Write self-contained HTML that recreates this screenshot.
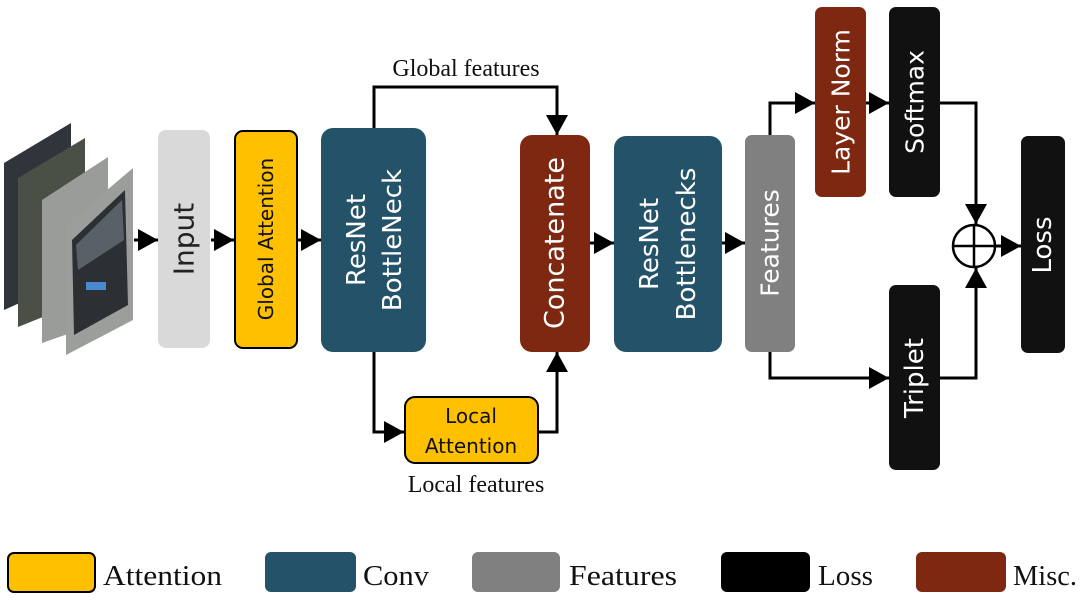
<!DOCTYPE html>
<html><head><meta charset="utf-8"><style>
html,body{margin:0;padding:0;background:#fff;}
svg{display:block;}
.s{font-family:"DejaVu Sans","Liberation Sans",sans-serif;}
.r{font-family:"Liberation Serif",serif;fill:#111;}
</style></head><body>
<svg width="1084" height="600" viewBox="0 0 1084 600" xmlns="http://www.w3.org/2000/svg">
<defs>
<marker id="a" markerWidth="20" markerHeight="22" refX="20" refY="11" orient="auto" markerUnits="userSpaceOnUse" viewBox="0 0 20 22">
<path d="M0,0 L20,11 L0,22 Z" fill="#000"/></marker>
</defs>
<!-- photos -->
<polygon points="4,163 71,123 71,280 4,310" fill="#30343b"/>
<polygon points="18,178 85,138 85,300 18,327" fill="#4a5046"/>
<polygon points="42,200 108,157 108,320 42,343" fill="#9a9c9a"/>
<polygon points="66,225 133,168 133,320 66,355" fill="#9c9e9c"/>
<polygon points="72,240 125,190 128,305 74,335" fill="#2c3034"/>
<polygon points="76,245 122,200 124,240 78,270" fill="#5a6068"/>
<rect x="86" y="282" width="20" height="8" fill="#4a8ad0"/>
<!-- arrows -->
<g stroke="#000" stroke-width="3" fill="none">
<line x1="134" y1="240" x2="158" y2="240" marker-end="url(#a)"/>
<line x1="211" y1="240" x2="234" y2="240" marker-end="url(#a)"/>
<line x1="298" y1="240" x2="321" y2="240" marker-end="url(#a)"/>
<polyline points="374,128 374,87 557,87 557,135" marker-end="url(#a)"/>
<polyline points="374,352 374,432 404,432" marker-end="url(#a)"/>
<polyline points="538,432 557,432 557,352" marker-end="url(#a)"/>
<line x1="590" y1="243" x2="614" y2="243" marker-end="url(#a)"/>
<line x1="722" y1="243" x2="745" y2="243" marker-end="url(#a)"/>
<polyline points="770,135 770,103 815,103" marker-end="url(#a)"/>
<line x1="866" y1="103" x2="889" y2="103" marker-end="url(#a)"/>
<polyline points="940,103 976,103 976,224" marker-end="url(#a)"/>
<polyline points="770,352 770,378 889,378" marker-end="url(#a)"/>
<polyline points="940,378 976,378 976,268" marker-end="url(#a)"/>
<line x1="996" y1="246" x2="1021" y2="246" marker-end="url(#a)"/>
</g>
<circle cx="974" cy="246" r="21" fill="#fff" stroke="#000" stroke-width="2.5"/>
<line x1="953" y1="246" x2="995" y2="246" stroke="#000" stroke-width="2.5"/>
<line x1="974" y1="225" x2="974" y2="267" stroke="#000" stroke-width="2.5"/>
<!-- boxes -->
<rect x="158" y="130" width="52" height="218" rx="8" fill="#d9d9d9"/>
<rect x="235" y="131" width="62" height="217" rx="8" fill="#ffc000" stroke="#000" stroke-width="2"/>
<rect x="321" y="128" width="105" height="224" rx="12" fill="#245369"/>
<rect x="520" y="135" width="70" height="217" rx="12" fill="#7f2811"/>
<rect x="614" y="136" width="108" height="216" rx="12" fill="#245369"/>
<rect x="745" y="135" width="50" height="217" rx="7" fill="#808080"/>
<rect x="815" y="7" width="51" height="190" rx="7" fill="#7f2811"/>
<rect x="889" y="7" width="51" height="190" rx="7" fill="#111"/>
<rect x="889" y="285" width="51" height="185" rx="7" fill="#111"/>
<rect x="1021" y="136" width="44" height="217" rx="7" fill="#111"/>
<rect x="405" y="397" width="133" height="66" rx="10" fill="#ffc000" stroke="#000" stroke-width="2"/>
<g class="s" text-anchor="middle" dominant-baseline="central">
<text transform="translate(184,239) rotate(-90)" font-size="28" fill="#222">Input</text>
<text transform="translate(266,239) rotate(-90)" font-size="20" fill="#111">Global Attention</text>
<text transform="translate(357,240) rotate(-90)" font-size="26" fill="#fff">ResNet</text>
<text transform="translate(393,240) rotate(-90)" font-size="26" fill="#fff">BottleNeck</text>
<text transform="translate(555,243) rotate(-90)" font-size="27" fill="#fff">Concatenate</text>
<text transform="translate(650,244) rotate(-90)" font-size="26" fill="#fff">ResNet</text>
<text transform="translate(687,244) rotate(-90)" font-size="26" fill="#fff">Bottlenecks</text>
<text transform="translate(770,243) rotate(-90)" font-size="25" fill="#fff">Features</text>
<text transform="translate(841,102) rotate(-90)" font-size="25" fill="#fff">Layer Norm</text>
<text transform="translate(915,102) rotate(-90)" font-size="25" fill="#fff">Softmax</text>
<text transform="translate(915,378) rotate(-90)" font-size="26" fill="#fff">Triplet</text>
<text transform="translate(1043,245) rotate(-90)" font-size="26" fill="#fff">Loss</text>
<text x="471" y="416" font-size="20" fill="#111">Local</text>
<text x="471" y="446" font-size="20" fill="#111">Attention</text>
</g>
<text class="r" x="466" y="76" font-size="24" text-anchor="middle">Global features</text>
<text class="r" x="476" y="492" font-size="24" text-anchor="middle">Local features</text>
<!-- legend -->
<rect x="8" y="553" width="87" height="39" rx="6" fill="#ffc000" stroke="#000" stroke-width="2"/>
<rect x="265" y="552" width="91" height="40" rx="6" fill="#245369"/>
<rect x="472" y="552" width="88" height="40" rx="6" fill="#808080"/>
<rect x="721" y="552" width="89" height="40" rx="6" fill="#000"/>
<rect x="916" y="552" width="90" height="40" rx="6" fill="#7f2811"/>
<g class="r" font-size="28">
<text x="103" y="585" textLength="119" lengthAdjust="spacingAndGlyphs">Attention</text>
<text x="363" y="585" textLength="66" lengthAdjust="spacingAndGlyphs">Conv</text>
<text x="569" y="585" textLength="108" lengthAdjust="spacingAndGlyphs">Features</text>
<text x="818" y="585" textLength="55" lengthAdjust="spacingAndGlyphs">Loss</text>
<text x="1013" y="585" textLength="64" lengthAdjust="spacingAndGlyphs">Misc.</text>
</g>
</svg>
</body></html>
